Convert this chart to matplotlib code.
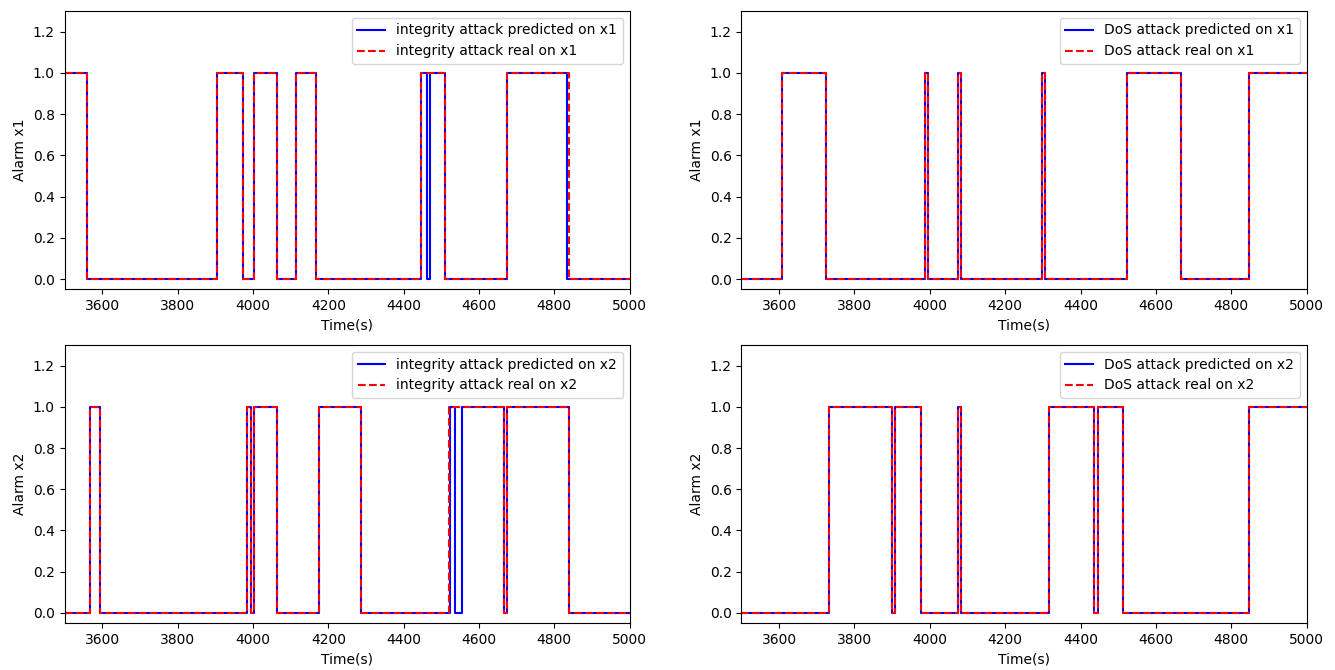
import numpy as np
import matplotlib
matplotlib.use("Agg")
import matplotlib.pyplot as plt

# switching times (s) and alarm level after each switch
t_int_x1_pred = [3500, 3559, 3905, 3974, 4004, 4065, 4113, 4167, 4445, 4462, 4469, 4511, 4675, 4833, 5000]
a_int_x1_pred = [1, 0, 1, 0, 1, 0, 1, 0, 1, 0, 1, 0, 1, 0, 0]
t_int_x1_real = [3500, 3559, 3905, 3974, 4004, 4065, 4113, 4167, 4445, 4511, 4675, 4840, 5000]
a_int_x1_real = [1, 0, 1, 0, 1, 0, 1, 0, 1, 0, 1, 0, 0]

t_int_x2_pred = [3500, 3568, 3594, 3985, 3994, 4003, 4063, 4175, 4287, 4524, 4537, 4555, 4665, 4675, 4840, 5000]
a_int_x2_pred = [0, 1, 0, 1, 0, 1, 0, 1, 0, 1, 0, 1, 0, 1, 0, 0]
t_int_x2_real = [3500, 3568, 3594, 3985, 3994, 4003, 4063, 4175, 4287, 4520, 4665, 4675, 4840, 5000]
a_int_x2_real = [0, 1, 0, 1, 0, 1, 0, 1, 0, 1, 0, 1, 0, 0]

t_dos_x1 = [3500, 3607, 3724, 3987, 3996, 4074, 4083, 4298, 4305, 4523, 4666, 4847, 5000]
a_dos_x1 = [0, 1, 0, 1, 0, 1, 0, 1, 0, 1, 0, 1, 1]

t_dos_x2 = [3500, 3732, 3899, 3907, 3976, 4076, 4083, 4316, 4437, 4447, 4513, 4847, 5000]
a_dos_x2 = [0, 1, 0, 1, 0, 1, 0, 1, 0, 1, 0, 1, 1]

fig = plt.figure(figsize=(13.35, 6.7), dpi=100)

panels = [
    ([0.0484, 0.568, 0.4233, 0.4156], t_int_x1_pred, a_int_x1_pred, t_int_x1_real, a_int_x1_real,
     "integrity attack predicted on x1", "integrity attack real on x1", "Alarm x1"),
    ([0.5554, 0.568, 0.4233, 0.4156], t_dos_x1, a_dos_x1, t_dos_x1, a_dos_x1,
     "DoS attack predicted on x1", "DoS attack real on x1", "Alarm x1"),
    ([0.0484, 0.070, 0.4233, 0.4150], t_int_x2_pred, a_int_x2_pred, t_int_x2_real, a_int_x2_real,
     "integrity attack predicted on x2", "integrity attack real on x2", "Alarm x2"),
    ([0.5554, 0.070, 0.4233, 0.4150], t_dos_x2, a_dos_x2, t_dos_x2, a_dos_x2,
     "DoS attack predicted on x2", "DoS attack real on x2", "Alarm x2"),
]

for rect, tp, ap, tr, ar, lp, lr, ylab in panels:
    ax = fig.add_axes(rect)
    ax.step(tp, ap, where="post", color="blue", label=lp)
    ax.step(tr, ar, where="post", color="red", linestyle="--", label=lr)
    ax.set_xlim(3500, 5000)
    ax.set_ylim(-0.05, 1.3)
    ax.set_yticks([0.0, 0.2, 0.4, 0.6, 0.8, 1.0, 1.2])
    ax.set_xlabel("Time(s)")
    ax.set_ylabel(ylab)
    ax.legend(loc="upper right")

plt.savefig("out.png")
